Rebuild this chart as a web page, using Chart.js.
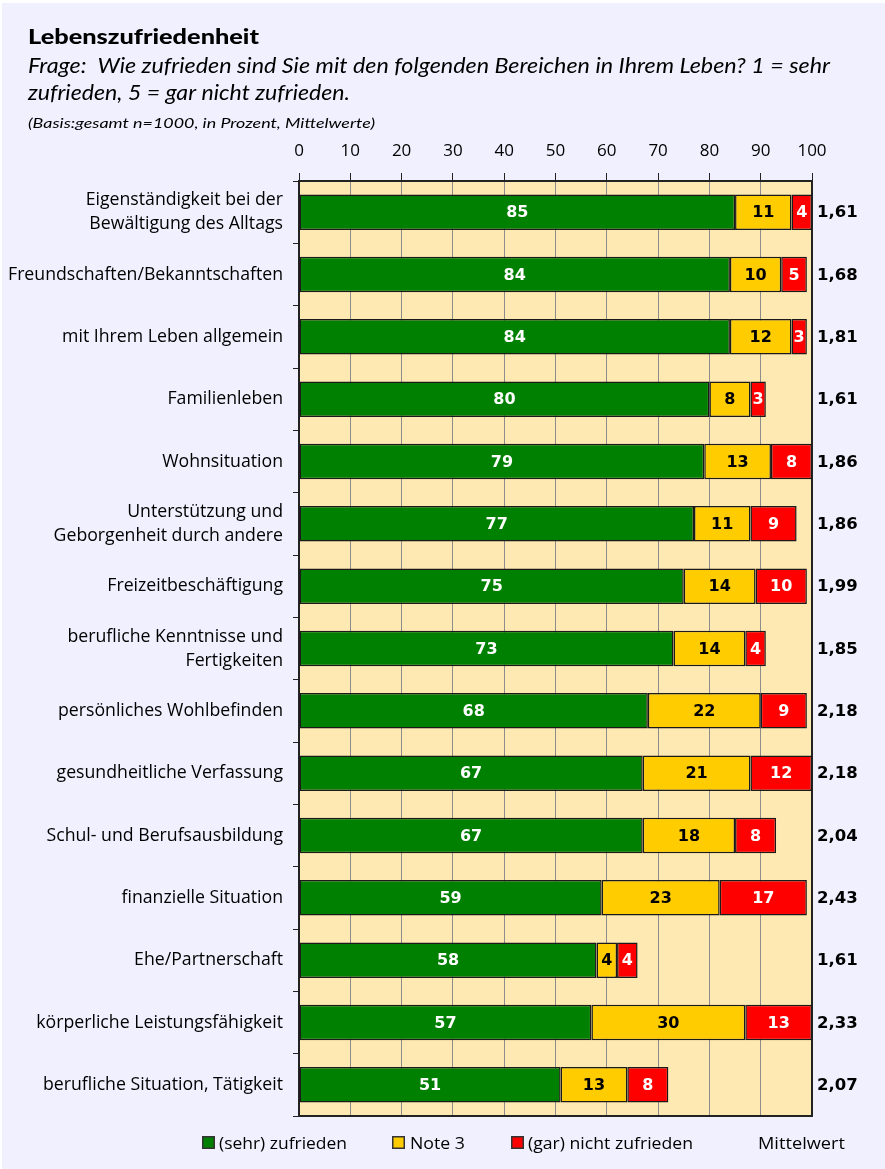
<!DOCTYPE html>
<html><head><meta charset="utf-8">
<script src="https://cdn.jsdelivr.net/npm/chart.js@4"></script>
<style>html,body{margin:0;padding:0;background:#fff}#wrap{width:885px;height:1169px;position:relative}</style>
</head><body><div id="wrap"><canvas id="c" width="885" height="1169"></canvas></div>
<script>
const categories = [
  ["Eigenständigkeit bei der", "Bewältigung des Alltags"],
  "Freundschaften/Bekanntschaften",
  "mit Ihrem Leben allgemein",
  "Familienleben",
  "Wohnsituation",
  ["Unterstützung und", "Geborgenheit durch andere"],
  "Freizeitbeschäftigung",
  ["berufliche Kenntnisse und", "Fertigkeiten"],
  "persönliches Wohlbefinden",
  "gesundheitliche Verfassung",
  "Schul- und Berufsausbildung",
  "finanzielle Situation",
  "Ehe/Partnerschaft",
  "körperliche Leistungsfähigkeit",
  "berufliche Situation, Tätigkeit"
];
const zufrieden = [85, 84, 84, 80, 79, 77, 75, 73, 68, 67, 67, 59, 58, 57, 51];
const note3     = [11, 10, 12,  8, 13, 11, 14, 14, 22, 21, 18, 23,  4, 30, 13];
const nichtZuf  = [ 4,  5,  3,  3,  8,  9, 10,  4,  9, 12,  8, 17,  4, 13,  8];
const mittelwert = ["1,61","1,68","1,81","1,61","1,86","1,86","1,99","1,85","2,18","2,18","2,04","2,43","1,61","2,33","2,07"];
const xTicks = [0, 10, 20, 30, 40, 50, 60, 70, 80, 90, 100];
const seriesNames = ["(sehr) zufrieden", "Note 3", "(gar) nicht zufrieden"];
const seriesColors = ["#008000", "#FFCC00", "#FF0000"];
const labelColors = ["#ffffff", "#000000", "#ffffff"];

const FONT = "'Open Sans', 'DejaVu Sans', sans-serif";
const ITAL = "Lato, 'Open Sans', sans-serif";
const BOLD = "'DejaVu Sans', sans-serif";

function fitText(ctx, text, x, y, font, width) {
  ctx.save();
  ctx.font = font;
  const w = ctx.measureText(text).width;
  ctx.translate(x, y);
  ctx.scale(width / w, 1);
  ctx.textAlign = 'left';
  ctx.textBaseline = 'alphabetic';
  ctx.fillText(text, 0, 0);
  ctx.restore();
}

const bgPlugin = {
  id: 'bg',
  beforeDraw(chart) {
    const ctx = chart.ctx, a = chart.chartArea;
    ctx.save();
    ctx.fillStyle = '#ffffff';
    ctx.fillRect(0, 0, chart.width, chart.height);
    ctx.fillStyle = '#F0F0FF';
    ctx.fillRect(2, 3, chart.width - 2, chart.height - 3);
    ctx.fillStyle = '#FFE9B3';
    ctx.fillRect(a.left, a.top, a.right - a.left, a.bottom - a.top);
    ctx.restore();
  },
  beforeDatasetsDraw(chart) {
    const ctx = chart.ctx, a = chart.chartArea;
    ctx.save();
    ctx.strokeStyle = '#222';
    ctx.lineWidth = 2;
    ctx.strokeRect(a.left, a.top, a.right - a.left, a.bottom - a.top);
    ctx.restore();
  }
};

const labelPlugin = {
  id: 'labels',
  afterDatasetsDraw(chart) {
    const ctx = chart.ctx, a = chart.chartArea;
    ctx.save();
    ctx.font = "bold 16px " + BOLD;
    ctx.textAlign = 'center';
    ctx.textBaseline = 'middle';
    chart.data.datasets.forEach((ds, di) => {
      const meta = chart.getDatasetMeta(di);
      meta.data.forEach((el, i) => {
        const v = ds.data[i];
        if (!v) return;
        ctx.fillStyle = labelColors[di];
        ctx.fillText(String(v), (el.x + el.base) / 2, el.y + 1);
      });
    });
    const meta0 = chart.getDatasetMeta(0);
    ctx.textAlign = 'left';
    ctx.fillStyle = '#000';
    ctx.font = "bold 16.5px " + BOLD;
    meta0.data.forEach((el, i) => {
      ctx.fillText(mittelwert[i], a.right + 5, el.y + 1);
    });
    ctx.restore();
  },
  afterDraw(chart) {
    const ctx = chart.ctx;
    ctx.save();
    ctx.fillStyle = '#000';
    fitText(ctx, "Lebenszufriedenheit", 28, 44, "900 20px " + ITAL, 231);
    fitText(ctx, "Frage:  Wie zufrieden sind Sie mit den folgenden Bereichen in Ihrem Leben? 1 = sehr", 28, 73, "italic 21px " + ITAL, 802);
    fitText(ctx, "zufrieden, 5 = gar nicht zufrieden.", 28, 100, "italic 21px " + ITAL, 322);
    fitText(ctx, "(Basis:gesamt n=1000, in Prozent, Mittelwerte)", 28, 128, "italic 14px " + ITAL, 347);
    const items = [
      {x: 202, tx: 219, tw: 128},
      {x: 392, tx: 410, tw: 55},
      {x: 511, tx: 528, tw: 165}
    ];
    items.forEach((it, i) => {
      ctx.fillStyle = seriesColors[i];
      ctx.fillRect(it.x, 1136, 13, 13);
      ctx.strokeStyle = '#333';
      ctx.lineWidth = 1.5;
      ctx.strokeRect(it.x + 0.75, 1136.75, 11.5, 11.5);
      ctx.fillStyle = '#000';
      fitText(ctx, seriesNames[i], it.tx, 1149, "17px " + FONT, it.tw);
    });
    fitText(ctx, "Mittelwert", 758, 1149, "17px " + FONT, 87);
    ctx.restore();
  }
};

const datasets = [zufrieden, note3, nichtZuf].map((d, i) => ({
  label: seriesNames[i],
  data: d,
  backgroundColor: seriesColors[i],
  borderColor: '#1a1a1a',
  borderWidth: 1.5,
  borderSkipped: false,
  categoryPercentage: 0.57,
  barPercentage: 1
}));

new Chart(document.getElementById('c'), {
  type: 'bar',
  data: { labels: categories, datasets },
  options: {
    indexAxis: 'y',
    responsive: false,
    animation: false,
    devicePixelRatio: 1,
    layout: { padding: { left: 0, right: 73, top: 136, bottom: 53 } },
    plugins: { legend: { display: false }, tooltip: { enabled: false } },
    scales: {
      x: {
        position: 'top',
        stacked: true,
        min: 0, max: 100,
        afterBuildTicks(s) { s.ticks = xTicks.map(v => ({ value: v })); },
        ticks: { font: { size: 17, family: FONT }, color: '#000', padding: 12 },
        grid: { color: '#8c8c8c', lineWidth: 1, tickLength: 8, tickColor: '#222', drawOnChartArea: true },
        border: { display: true, color: '#111', width: 2 },
        afterFit(s) { s.height = 45; }
      },
      y: {
        stacked: true,
        ticks: { font: { size: 17.7, family: FONT, lineHeight: 1.36 }, color: '#000', padding: 10, autoSkip: false },
        grid: { display: true, drawOnChartArea: false, tickLength: 6, tickColor: '#222', color: '#222' },
        border: { display: false },
        afterFit(s) { s.width = 299; }
      }
    }
  },
  plugins: [bgPlugin, labelPlugin]
});
</script></body></html>
